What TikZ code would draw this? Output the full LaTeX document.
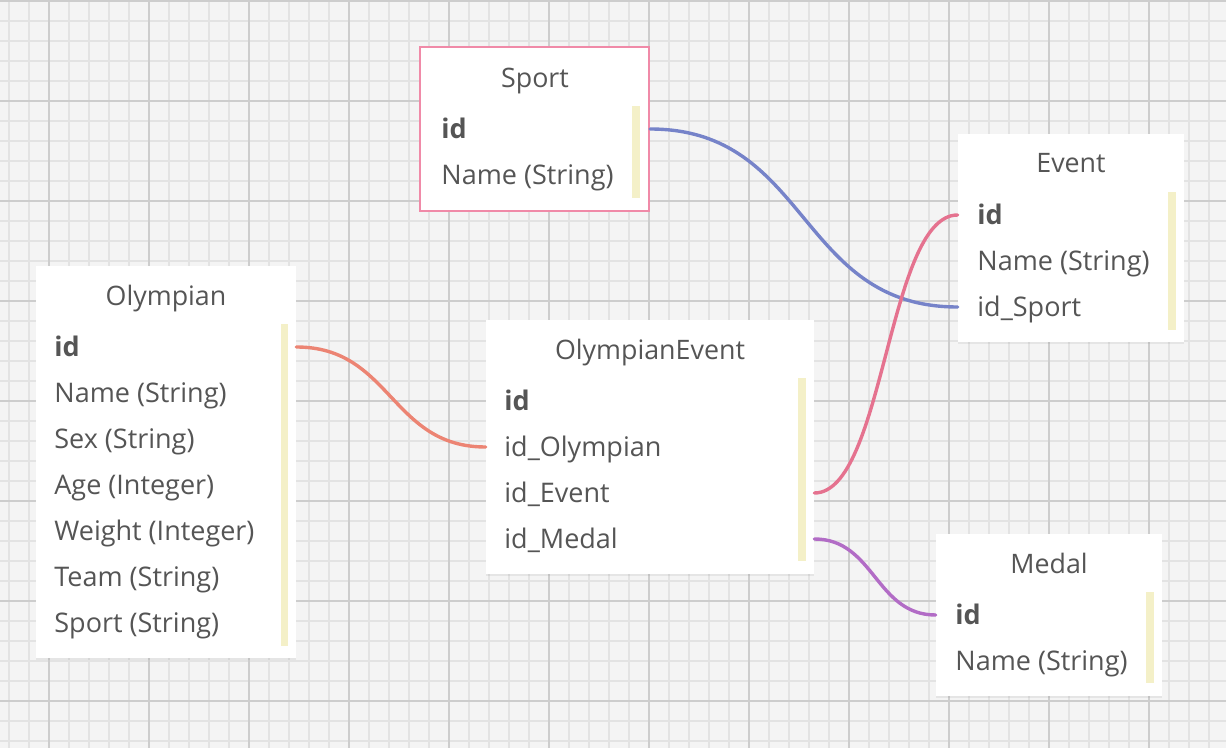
\documentclass[tikz,border=0pt]{standalone}
\usepackage{fontspec}
\setmainfont{Open Sans}
\usetikzlibrary{shadows}
\definecolor{bgc}{HTML}{F4F4F4}
\definecolor{minorc}{HTML}{E3E3E3}
\definecolor{majorc}{HTML}{CDCDCD}
\definecolor{txtc}{HTML}{555555}
\definecolor{barc}{HTML}{F4F0C8}
\definecolor{selc}{HTML}{F08AA8}
\definecolor{linkblue}{HTML}{7683C9}
\definecolor{linksalmon}{HTML}{EC8473}
\definecolor{linkpink}{HTML}{E5728F}
\definecolor{linkpurple}{HTML}{B26CC6}
\tikzset{
  minorline/.style={draw=minorc, line width=0.85pt},
  majorline/.style={draw=majorc, line width=1pt},
  tbl/.style={fill=white, inner sep=0pt, draw=none,
    drop shadow={opacity=0.12, shadow xshift=0pt, shadow yshift=-0.8pt}},
  seltbl/.style={fill=white, inner sep=0pt, draw=selc, line width=1pt},
  ttl/.style={anchor=base, inner sep=0pt, text=txtc, font=\fontsize{13.4}{16}\selectfont},
  fld/.style={anchor=west, inner sep=0pt, text height=9.6pt, text depth=0pt, text=txtc,
    font=\fontsize{13.5}{16}\selectfont},
  keyfld/.style={fld, font=\fontsize{13.5}{16}\selectfont\bfseries},
  barfill/.style={fill=barc},
  link/.style={line width=1.7pt, line cap=round},
}
\begin{document}
\begin{tikzpicture}[x=0.5pt, y=-0.5pt]
\useasboundingbox (0,0) rectangle (1226,748);
\fill[bgc] (0,0) rectangle (1226,748);
% grid
\foreach \x in {9,29,...,1225} \draw[minorline] (\x,0) -- (\x,748);
\foreach \y in {1,21,...,747} \draw[minorline] (0,\y) -- (1226,\y);
\foreach \x in {49,149,...,1149} \draw[majorline] (\x,0) -- (\x,748);
\foreach \y in {1,101,...,701} \draw[majorline] (0,\y) -- (1226,\y);

% tables
\node[seltbl, minimum width=114.5pt, minimum height=82pt] (sport) at (534.5,129) {};
\node[tbl, minimum width=113pt, minimum height=104pt] (event) at (1071,238) {};
\node[tbl, minimum width=130pt, minimum height=196pt] (olympian) at (166,462) {};
\node[tbl, minimum width=164pt, minimum height=127pt] (oe) at (650,447) {};
\node[tbl, minimum width=113pt, minimum height=81pt] (medal) at (1049,615) {};

% bars
\fill[barfill] (632,106) rectangle (640,198);
\fill[barfill] (1168,192) rectangle (1176,330);
\fill[barfill] (281,324) rectangle (288,646);
\fill[barfill] (798,378) rectangle (806,561);
\fill[barfill] (1146,592) rectangle (1154,683);

% Sport
\node[ttl] (sportttl) at (535,88) {Sport};
\node[keyfld] (sid) at (441,129) {id};
\node[fld] (sname) at (441,175) {Name (String)};
% Event
\node[ttl] (eventttl) at (1071,173) {Event};
\node[keyfld] (eid) at (977,215) {id};
\node[fld] (ename) at (977,261) {Name (String)};
\node[fld] (eidsport) at (977,307) {id\_Sport};
% Olympian
\node[ttl] (olyttl) at (166,306) {Olympian};
\node[keyfld] (oid) at (54,347) {id};
\node[fld] (oname) at (54,393) {Name (String)};
\node[fld] (osex) at (54,439) {Sex (String)};
\node[fld] (oage) at (54,485) {Age (Integer)};
\node[fld] (oweight) at (54,531) {Weight (Integer)};
\node[fld] (oteam) at (54,577) {Team (String)};
\node[fld] (osport) at (54,623) {Sport (String)};
% OlympianEvent
\node[ttl] (oettl) at (650,360) {OlympianEvent};
\node[keyfld] (oeid) at (504,401) {id};
\node[fld] (oeoly) at (504,447) {id\_Olympian};
\node[fld] (oeevent) at (504,493) {id\_Event};
\node[fld] (oemedal) at (504,539) {id\_Medal};
% Medal
\node[ttl] (medalttl) at (1049,573) {Medal};
\node[keyfld] (mid) at (955,615) {id};
\node[fld] (mname) at (955,661) {Name (String)};

% connectors
\draw[link, linkblue] (sport.east |- sid) .. controls +(160,0) and +(-160,0) .. (event.west |- eidsport);
\draw[link, linksalmon] (olympian.east |- oid) .. controls +(95,0) and +(-95,0) .. (oe.west |- oeoly);
\draw[link, linkpink] (oe.east |- oeevent) .. controls +(70,0) and +(-70,0) .. (event.west |- eid);
\draw[link, linkpurple] (oe.east |- oemedal) .. controls +(60,0) and +(-60,0) .. (medal.west |- mid);
\end{tikzpicture}
\end{document}
